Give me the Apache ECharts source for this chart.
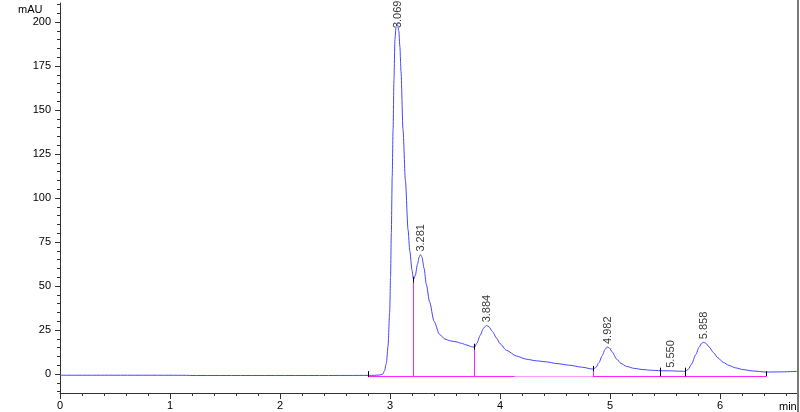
<!DOCTYPE html>
<html>
<head>
<meta charset="utf-8">
<script src="https://cdn.jsdelivr.net/npm/echarts@6/dist/echarts.min.js"></script>
<style>html,body{margin:0;padding:0;background:#fff;}#c{width:800px;height:412px;}</style>
</head>
<body>
<div id="c"></div>
<script>
// ---- data ----
const times = [0.00,0.50,1.00,1.15,1.20,1.60,2.00,2.40,2.80,2.86,2.90,2.92,2.935,2.95,2.967,2.982,2.997,3.005,3.012,3.020,3.028,3.036,3.045,3.055,3.068,3.080,3.090,3.100,3.118,3.140,3.164,3.180,3.200,3.214,3.230,3.250,3.265,3.277,3.290,3.310,3.330,3.360,3.400,3.450,3.500,3.550,3.600,3.650,3.700,3.740,3.768,3.790,3.820,3.850,3.877,3.900,3.930,3.970,4.000,4.060,4.150,4.240,4.330,4.420,4.520,4.630,4.740,4.845,4.870,4.900,4.930,4.955,4.975,4.995,5.020,5.060,5.100,5.150,5.220,5.300,5.380,5.455,5.500,5.550,5.620,5.680,5.710,5.740,5.780,5.810,5.835,5.852,5.870,5.900,5.940,5.980,6.030,6.080,6.140,6.210,6.300,6.422,6.550,6.700];
const signal = [-0.70,-0.70,-0.72,-0.75,-0.85,-0.85,-0.85,-0.85,-0.80,-0.75,-0.60,-0.35,0.0,1.8,6.2,15.7,35,55,80,112,139,167,190,197.5,198.5,195,186,172,139,110,82,70,59,53.6,56,62.5,66.5,67.8,66.5,60,51,41,30,22.5,19.8,18.8,18.3,17.4,16.4,15.5,15.2,17.5,22,26,27.6,26.8,24.2,20.3,17.2,13.4,10.2,8.4,7.5,6.9,5.9,5.0,3.9,2.8,3.6,6.5,10.5,14,15.3,14.8,12.5,8.5,6.0,4.3,3.2,2.5,2.1,1.9,1.8,1.8,1.6,1.5,2.5,5.5,11,15.3,17.6,18.0,17.5,15.5,12.2,9.2,6.6,4.9,3.5,2.5,1.7,1.1,1.2,1.5];

const peakLabels = ['3.069','3.281','3.884','4.982','5.550','5.858'];
const peakHeights = [198.5, 67.8, 27.6, 15.3, 1.8, 18.0];

const baselineLevel = -1.3;
const baseStrong = [[2.80, 4.134], [4.845, 6.422]];
const basePale = [[4.134, 4.845]];

const dropTimes = [3.214, 3.768, 4.845];
const dropTops = [53.6, 15.2, 2.8];

const markTimes = [2.80, 3.214, 3.768, 4.845, 5.455, 5.68, 6.422];
const markLow  = [-1.8, 52.0, 13.8, 1.6, -1.3, -1.3, -1.3];
const markHigh = [1.6, 55.2, 17.2, 4.6, 3.6, 3.6, 1.6];

const xMajor = [0,1,2,3,4,5,6];
const yMajor = [0,25,50,75,100,125,150,175,200];

// ---- build ----
const xMinor = []; for (let i = 0; i <= 33; i++) xMinor.push(+(i*0.2).toFixed(1));
const yMinor = []; for (let v = -10; v <= 210; v += 5) yMinor.push(v);

const FONT = '"Liberation Sans", Arial, sans-serif';
const AX = '#333';

const chart = echarts.init(document.getElementById('c'), null, {renderer: 'canvas'});
const seg = (a, b) => ({coords: [a, b]});

const option = {
  animation: false,
  backgroundColor: '#fff',
  grid: {left: 60, top: 3, width: 737, height: 390},
  xAxis: [
    {type: 'value', min: 0, max: 6.7, position: 'bottom',
     axisLine: {show: true, onZero: false, lineStyle: {color: AX, width: 1}},
     axisTick: {show: true, length: 6, lineStyle: {color: AX}, customValues: xMajor},
     axisLabel: {show: true, margin: 7, color: '#000', fontSize: 11, fontFamily: FONT, customValues: xMajor},
     splitLine: {show: false}},
    {type: 'value', min: 0, max: 6.7, position: 'bottom', gridIndex: 0,
     axisLine: {show: false, onZero: false},
     axisTick: {show: true, length: 3, lineStyle: {color: AX}, customValues: xMinor},
     axisLabel: {show: false}, splitLine: {show: false}}
  ],
  yAxis: [
    {type: 'value', min: -10.8, max: 210.8, position: 'left',
     axisLine: {show: true, onZero: false, lineStyle: {color: AX, width: 1}},
     axisTick: {show: true, length: 5, lineStyle: {color: AX}, customValues: yMajor},
     axisLabel: {show: true, margin: 9, color: '#000', fontSize: 11, fontFamily: FONT, customValues: yMajor},
     splitLine: {show: false}},
    {type: 'value', min: -10.8, max: 210.8, position: 'left', offset: 0,
     axisLine: {show: false, onZero: false},
     axisTick: {show: true, length: 3, lineStyle: {color: AX}, customValues: yMinor},
     axisLabel: {show: false}, splitLine: {show: false}}
  ],
  graphic: [
    {type: 'text', left: 18, top: 4, style: {text: 'mAU', fill: '#000', font: '11px ' + FONT}},
    {type: 'text', left: 779, top: 401, style: {text: 'min', fill: '#000', font: '11px ' + FONT}, z: 101},
    {type: 'rect', shape: {x: 797, y: 0, width: 2, height: 412}, style: {fill: '#7a7a7a'}, z: 100}
  ],
  series: [
    {type: 'lines', coordinateSystem: 'cartesian2d', z: 2,
     data: baseStrong.map(s => seg([s[0], baselineLevel], [s[1], baselineLevel]))
       .concat(dropTimes.map((t, i) => seg([t, baselineLevel], [t, dropTops[i]]))),
     lineStyle: {color: '#ff22ff', width: 1, opacity: 1}},
    {type: 'lines', coordinateSystem: 'cartesian2d', z: 2,
     data: basePale.map(s => seg([s[0], baselineLevel], [s[1], baselineLevel])),
     lineStyle: {color: '#ff9cff', width: 1, opacity: 1}},
    {type: 'line', data: times.map((t, i) => [t, signal[i]]), showSymbol: false, symbol: 'none',
     smooth: 0.25, smoothMonotone: 'x', z: 3,
     lineStyle: {color: '#4646ff', width: 1}},
    {type: 'lines', coordinateSystem: 'cartesian2d', z: 4,
     data: markTimes.map((t, i) => seg([t, markLow[i]], [t, markHigh[i]])),
     lineStyle: {color: '#000', width: 1, opacity: 1}},
    {type: 'scatter', z: 5, symbolSize: 0.1, itemStyle: {color: 'rgba(0,0,0,0)'},
     data: peakLabels.map((l, i) => ({value: [parseFloat(l), peakHeights[i]], name: l,
       label: i === 0 ? {distance: -3.5} : undefined})),
     label: {show: true, position: 'top', distance: 3, rotate: 90, align: 'left', verticalAlign: 'middle',
       formatter: p => p.name, color: '#000', fontSize: 11, fontFamily: FONT}}
  ]
};
chart.setOption(option);
</script>
</body>
</html>
